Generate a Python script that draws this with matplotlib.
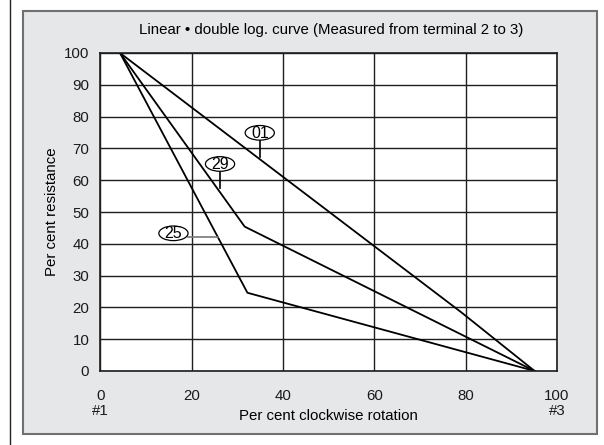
import matplotlib
matplotlib.use("Agg")
import matplotlib.pyplot as plt
from matplotlib.patches import Ellipse, Rectangle
from matplotlib.lines import Line2D

plt.rcParams['font.family'] = ['Liberation Sans', 'DejaVu Sans']

# curve data: percent rotation vs percent resistance
rotation_01 = [4.3, 79.0, 95.1]
resistance_01 = [100, 18.5, 0]
rotation_29 = [4.3, 31.6, 95.1]
resistance_29 = [100, 45.4, 0]
rotation_25 = [4.3, 32.2, 95.1]
resistance_25 = [100, 24.6, 0]

x_ticks = [0, 20, 40, 60, 80, 100]
x_tick_labels = ["0\n#1", "20", "40", "60", "80", "100\n#3"]
y_ticks = [0, 10, 20, 30, 40, 50, 60, 70, 80, 90, 100]

curve_names = ["01", "29", "25"]

fig = plt.figure(figsize=(6.04, 4.45), dpi=100)
fig.patch.set_facecolor("white")

# grey panel behind the chart
panel = Rectangle((23 / 604, 1 - 434 / 445), (597 - 23) / 604, (434 - 11) / 445,
                  transform=fig.transFigure, facecolor="#e6e7e8",
                  edgecolor="#707070", linewidth=1.5, zorder=-5)
fig.patches.append(panel)
fig.lines.append(Line2D([9.5 / 604, 9.5 / 604], [0, 1], transform=fig.transFigure,
                        color="#222222", linewidth=1.0, zorder=-5))

ax = fig.add_axes([100.4 / 604, 1 - 371 / 445, (557 - 100.4) / 604, (371 - 53) / 445])
ax.set_zorder(2)
ax.set_facecolor("white")
ax.set_xlim(0, 100)
ax.set_ylim(0, 100)

ax.set_xticks(x_ticks)
ax.set_xticklabels(x_tick_labels, fontsize=10.8, linespacing=1.1)
ax.set_yticks(y_ticks)
ax.tick_params(axis="both", length=0, labelsize=10.8, colors="#1a1a1a")
ax.tick_params(axis="x", pad=13)
ax.tick_params(axis="y", pad=8)

ax.grid(True, color="#1e1e1e", linewidth=1.0)
ax.set_axisbelow(True)
for s in ax.spines.values():
    s.set_color("#1e1e1e")
    s.set_linewidth(1.2)

ax.plot(rotation_01, resistance_01, color="black", linewidth=1.3)
ax.plot(rotation_29, resistance_29, color="black", linewidth=1.3)
ax.plot(rotation_25, resistance_25, color="black", linewidth=1.3)

# curve tags: ellipse + leader line
def tag(name, cx, cy, lx, ly, color="black"):
    ax.plot(lx, ly, color=color, linewidth=1.2, zorder=4)
    ax.add_patch(Ellipse((cx, cy), 6.4, 4.6, facecolor="white",
                         edgecolor="black", linewidth=0.9, zorder=5))
    ax.text(cx, cy - 0.2, name, ha="center", va="center", fontsize=11.5, zorder=6)

tag(curve_names[0], 34.9, 74.9, [34.9, 34.9], [72.6, 67.4])
tag(curve_names[1], 26.2, 65.1, [26.2, 26.2], [62.8, 57.4])
tag(curve_names[2], 16.0, 43.3, [19.2, 25.8], [42.2, 42.2], color="#777777")

ax.set_xlabel("Per cent clockwise rotation", fontsize=10.8, va="center")
ax.xaxis.set_label_coords(0.5, -0.14)
ax.set_ylabel("Per cent resistance", fontsize=10.8, va="center")
ax.yaxis.set_label_coords(-0.106, 0.5)

fig.text(331 / 604, 1 - 30 / 445, "Linear \u2022 double log. curve (Measured from terminal 2 to 3)",
         ha="center", va="center", fontsize=10.8)

fig.savefig("out.png", dpi=100)
